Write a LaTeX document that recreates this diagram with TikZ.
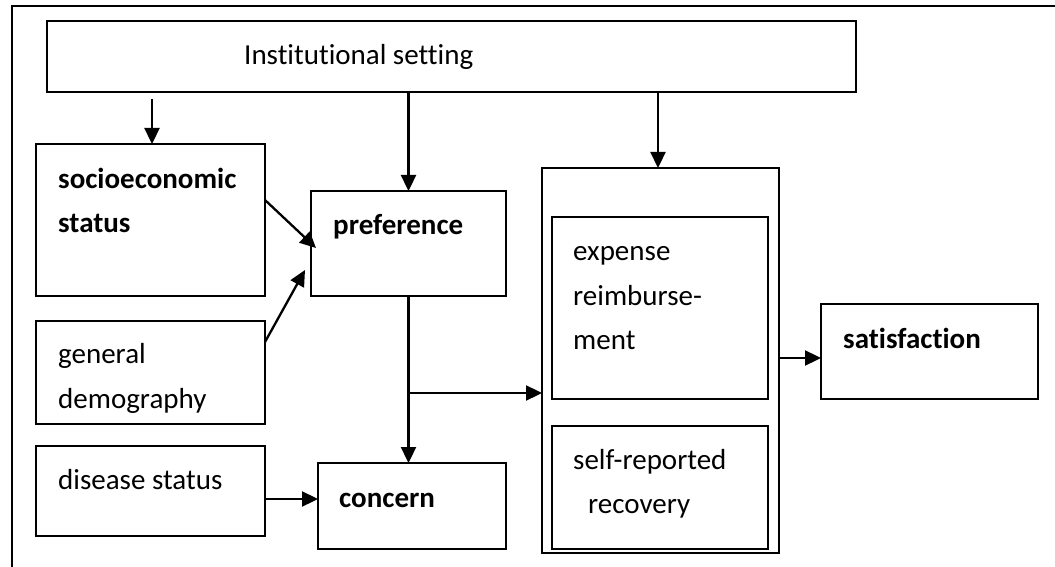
\documentclass[tikz,border=0pt]{standalone}
\usepackage{fontspec}
\setmainfont{Carlito}[Ligatures=NoCommon]
\usetikzlibrary{arrows.meta,calc}
\tikzset{
  box/.style={draw, line width=2pt, inner sep=0pt, outer sep=0pt},
  lbl/.style={anchor=base west, inner sep=0pt, font=\fontsize{29}{35}\selectfont},
  blbl/.style={lbl, font=\fontsize{29}{35}\selectfont\bfseries},
  arr/.style={line width=2.3pt, -{Triangle[length=16pt,width=15pt]}}
}
\begin{document}
\begin{tikzpicture}[x=1pt,y=-1pt]
\useasboundingbox (0,0) rectangle (1055,567);
\draw[line width=2.2pt] (12,567) -- (12,6) -- (1055,6);
% boxes
\node[box, minimum width=809pt, minimum height=71pt] (inst) at (451.5,56.5) {};
\node[box, minimum width=229pt, minimum height=152pt] (socio) at (150.5,220) {};
\node[box, minimum width=195pt, minimum height=105pt] (pref) at (408.5,243.5) {};
\node[box, minimum width=229pt, minimum height=103pt] (gen) at (150.5,372.5) {};
\node[box, minimum width=229pt, minimum height=90pt] (dis) at (150.5,491) {};
\node[box, minimum width=188pt, minimum height=86pt] (conc) at (412,506) {};
\node[box, minimum width=237pt, minimum height=385pt] (group) at (660.5,360.5) {};
\node[box, minimum width=216pt, minimum height=182pt] (exp) at (660,308) {};
\node[box, minimum width=216pt, minimum height=123pt] (self) at (660,487.5) {};
\node[box, minimum width=217pt, minimum height=95pt] (sat) at (929.5,351.5) {};
% texts
\node[lbl] (tinst) at (244,65) {Institutional setting};
\node[blbl] (tsocio1) at (58,188) {socioeconomic};
\node[blbl] (tsocio2) at (58,232) {status};
\node[blbl] (tpref) at (333,234) {preference};
\node[lbl] (tgen1) at (58,363) {general};
\node[lbl] (tgen2) at (58,408) {demography};
\node[lbl] (tdis) at (58,489) {disease status};
\node[blbl] (tconc) at (339,507) {concern};
\node[lbl] (texp1) at (573,260) {expense};
\node[lbl] (texp2) at (573,305) {reimburse-};
\node[lbl] (texp3) at (573,349) {ment};
\node[lbl] (tself1) at (573,469) {self-reported};
\node[lbl] (tself2) at (588,513) {recovery};
\node[blbl] (tsat) at (843,348) {satisfaction};
% connector end points
\coordinate (a1) at (152,99);
\coordinate (a3) at (658,92);
\coordinate (s1) at ($(socio.north east)+(0,56)$);
\coordinate (s2) at ($(pref.north west)+(5,57)$);
\coordinate (g1) at ($(gen.north east)+(0,21)$);
\coordinate (g2) at ($(pref.south west)+(-6,-26)$);
\coordinate (br) at (408.5,393);
\coordinate (d1) at ($(dis.east)+(0,8)$);
\coordinate (e1) at ($(group.east)+(0,-2.5)$);
% connectors
\draw[arr] (a1) -- (a1 |- socio.north);
\draw[arr] (inst.south -| pref.north) -- (pref.north);
\draw[arr] (a3) -- (a3 |- group.north);
\draw[arr] (s1) -- (s2);
\draw[arr] (g1) -- (g2);
\draw[arr] (pref.south) -- (pref.south |- conc.north);
\draw[arr] (br) -- (br -| group.west);
\draw[arr] (d1) -- (d1 -| conc.west);
\draw[arr] (e1) -- (e1 -| sat.west);
\end{tikzpicture}
\end{document}
